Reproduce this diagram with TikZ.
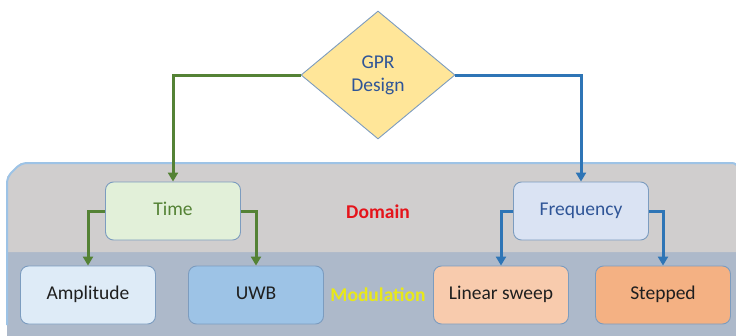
\documentclass[tikz,border=0pt]{standalone}
\usepackage{fontspec}
\setmainfont{Carlito}
\usetikzlibrary{arrows.meta, shapes.geometric}
\definecolor{panelline}{HTML}{9DC3E6}
\definecolor{domainbg}{HTML}{D0CECE}
\definecolor{modbg}{HTML}{ADB9CA}
\definecolor{edge}{HTML}{7C9CBF}
\definecolor{timegreen}{HTML}{548235}
\definecolor{freqblue}{HTML}{2E75B6}
\definecolor{textblue}{HTML}{2F5597}
\definecolor{gprfill}{HTML}{FFE699}
\definecolor{timefill}{HTML}{E2F0D9}
\definecolor{freqfill}{HTML}{DAE3F3}
\definecolor{ampfill}{HTML}{DEEBF7}
\definecolor{uwbfill}{HTML}{9DC3E6}
\definecolor{linfill}{HTML}{F8CBAD}
\definecolor{stepfill}{HTML}{F4B183}
\definecolor{domred}{HTML}{E5141B}
\definecolor{modyellow}{HTML}{E8E81A}

\begin{document}
\begin{tikzpicture}[x=1pt, y=-1pt,
      box/.style={draw=edge, line width=0.9pt, rounded corners=8pt,
                  minimum width=135pt, minimum height=58pt, align=center,
                  text height=13pt, text depth=4pt,
                  font=\fontsize{19.5}{22}\selectfont, text=black!88},
      garr/.style={-{Triangle[length=9pt, width=10pt]}, line width=3pt, timegreen},
      barr/.style={-{Triangle[length=9pt, width=10pt]}, line width=3pt, freqblue},
      lbl/.style={font=\fontsize{19.5}{22}\selectfont\bfseries}]
    \useasboundingbox (0,0) rectangle (736,335);
    \clip (0,0) rectangle (736,335);
    % panel with the two bands
    \fill[modbg] (7,177) -- (21,163) -- (745,163) -- (745,345) -- (7,345) -- cycle;
    \fill[domainbg] (7,177) -- (21,163) -- (745,163) -- (745,252) -- (7,252) -- cycle;
    \draw[panelline, line width=2pt, rounded corners=6pt]
      (7,325) -- (7,177) -- (21,163) -- (738,163) -- (738,345);
    % nodes
    \node[diamond, draw=edge, line width=0.9pt, fill=gprfill, minimum width=154pt,
          minimum height=128pt, inner sep=0pt, align=center, text=textblue,
          font=\fontsize{19.5}{23}\selectfont] (gpr) at (378,75) {GPR\\Design};
    \node[box, fill=timefill, text=timegreen] (time) at (173,211) {Time};
    \node[box, fill=freqfill, text=textblue] (freq) at (581,211) {Frequency};
    \node[box, fill=ampfill] (amp) at (88,295) {Amplitude};
    \node[box, fill=uwbfill] (uwb) at (256,295) {UWB};
    \node[box, fill=linfill] (lin) at (501,295) {Linear sweep};
    \node[box, fill=stepfill] (step) at (663,295) {Stepped};
    \node[lbl, text=domred] (dom) at (378,212) {Domain};
    \node[lbl, text=modyellow] (mod) at (378,295) {Modulation};
    % connectors
    \draw[garr] (gpr.west) -| (time.north);
    \draw[barr] (gpr.east) -| (freq.north);
    \draw[garr] (time.west) -| (amp.north);
    \draw[garr] (time.east) -| (uwb.north);
    \draw[barr] (freq.west) -| (lin.north);
    \draw[barr] (freq.east) -| (step.north);
  \end{tikzpicture}
\end{document}
